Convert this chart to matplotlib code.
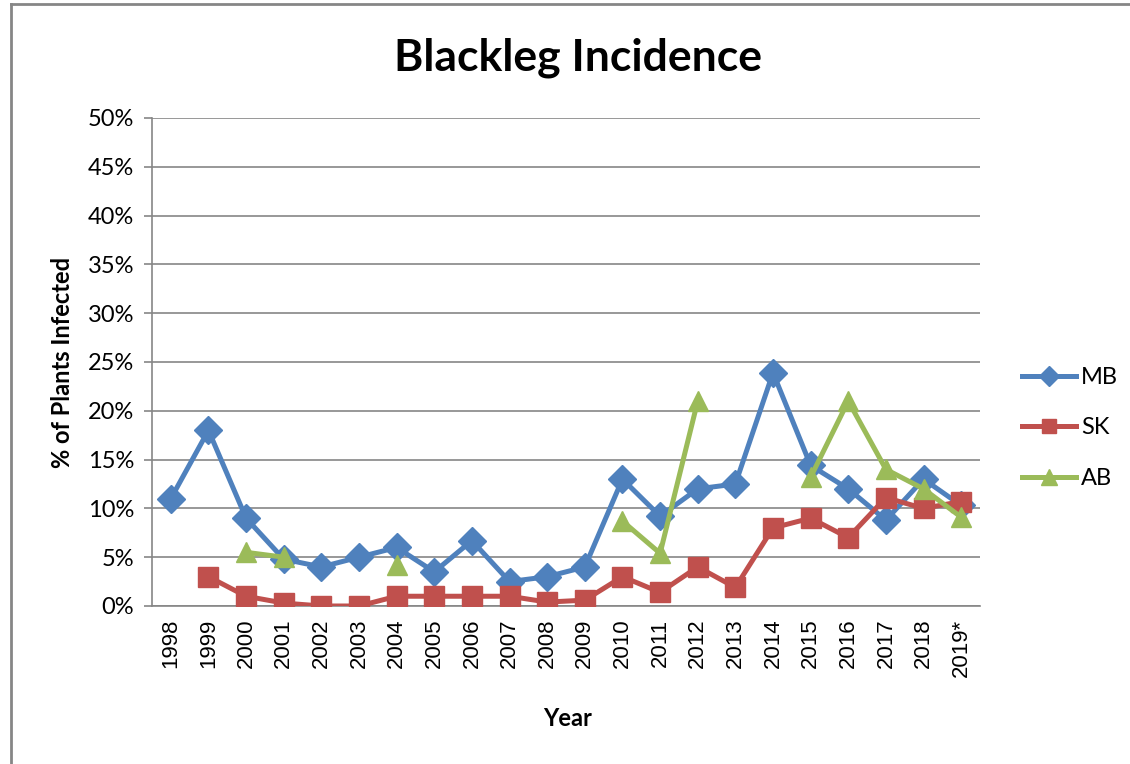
import numpy as np
import matplotlib
matplotlib.use("Agg")
import matplotlib.pyplot as plt
from matplotlib.lines import Line2D
from matplotlib.ticker import PercentFormatter

years = ["1998", "1999", "2000", "2001", "2002", "2003", "2004", "2005", "2006",
         "2007", "2008", "2009", "2010", "2011", "2012", "2013", "2014", "2015",
         "2016", "2017", "2018", "2019*"]
nan = np.nan
mb = [11.0, 18.0, 9.0, 4.8, 4.0, 5.0, 6.0, 3.5, 6.7, 2.5, 3.0, 4.0,
      13.0, 9.2, 12.0, 12.5, 23.9, 14.4, 12.0, 8.8, 13.0, 10.3]
sk = [nan, 3.0, 1.0, 0.3, 0.0, 0.0, 1.0, 1.0, 1.0, 1.0, 0.4, 0.6,
      3.0, 1.4, 4.0, 1.9, 8.0, 9.0, 7.0, 11.1, 10.0, 10.7]
ab = [nan, nan, 5.5, 5.0, nan, nan, 4.2, nan, nan, nan, nan, nan,
      8.7, 5.4, 21.0, nan, nan, 13.2, 21.0, 14.0, 12.0, 9.1]

fig = plt.figure(figsize=(11.3, 7.64), dpi=100)
ax = fig.add_axes([152/1130, 1-606/764, (980-152)/1130, (606-118)/764])

x = np.arange(len(years))
lw = 3.6
ax.plot(x, mb, color="#4F81BD", lw=lw, marker="D", ms=14, label="MB", zorder=3)
ax.plot(x, sk, color="#C0504D", lw=lw, marker="s", ms=14, label="SK", zorder=4)
ax.plot(x, ab, color="#9BBB59", lw=lw, marker="^", ms=15, label="AB", zorder=5)

ax.set_xlim(-0.5, len(years) - 0.5)
ax.set_ylim(0, 50)
ax.set_yticks(np.arange(0, 51, 5))
ax.yaxis.set_major_formatter(PercentFormatter(decimals=0))
ax.set_xticks(x)
ax.set_xticklabels(years, rotation=90, fontsize=16, family="Liberation Sans")
ax.tick_params(axis="x", length=0, pad=9)
ax.tick_params(axis="y", length=6, color="#868686", width=1.2, labelsize=17, pad=7)
for lab in ax.get_yticklabels():
    lab.set_family("Lato")
ax.grid(axis="y", color="#868686", lw=1.2)
ax.set_axisbelow(True)
for s in ["top", "right"]:
    ax.spines[s].set_visible(False)
for s in ["left", "bottom"]:
    ax.spines[s].set_color("#868686")
    ax.spines[s].set_linewidth(1.2)

fig.text(578/1130, 1-58/764, "Blackleg Incidence", ha="center", va="center",
         fontsize=32, fontweight="bold", family="Lato")
fig.text(63/1130, 1-362/764, "% of Plants Infected", ha="center", va="center",
         rotation=90, fontsize=17, fontweight="bold", family="Lato")
fig.text(568/1130, 1-718/764, "Year", ha="center", va="center",
         fontsize=17, fontweight="bold", family="Lato")

leg = ax.legend(loc="center left", frameon=False,
                prop={"family": "Lato", "size": 17},
                handlelength=2.3, labelspacing=1.25, handletextpad=0.2,
                markerscale=0.75)
leg.set_bbox_to_anchor((1.025, 0.365), transform=ax.transAxes)

# chart border (partially visible, top and left)
fig.add_artist(Line2D([11/1130, 11/1130], [0, 1-4/764], transform=fig.transFigure,
                      color="#868686", lw=2))
fig.add_artist(Line2D([11/1130, 1], [1-4/764, 1-4/764], transform=fig.transFigure,
                      color="#868686", lw=2))

fig.savefig("out.png", dpi=100)
